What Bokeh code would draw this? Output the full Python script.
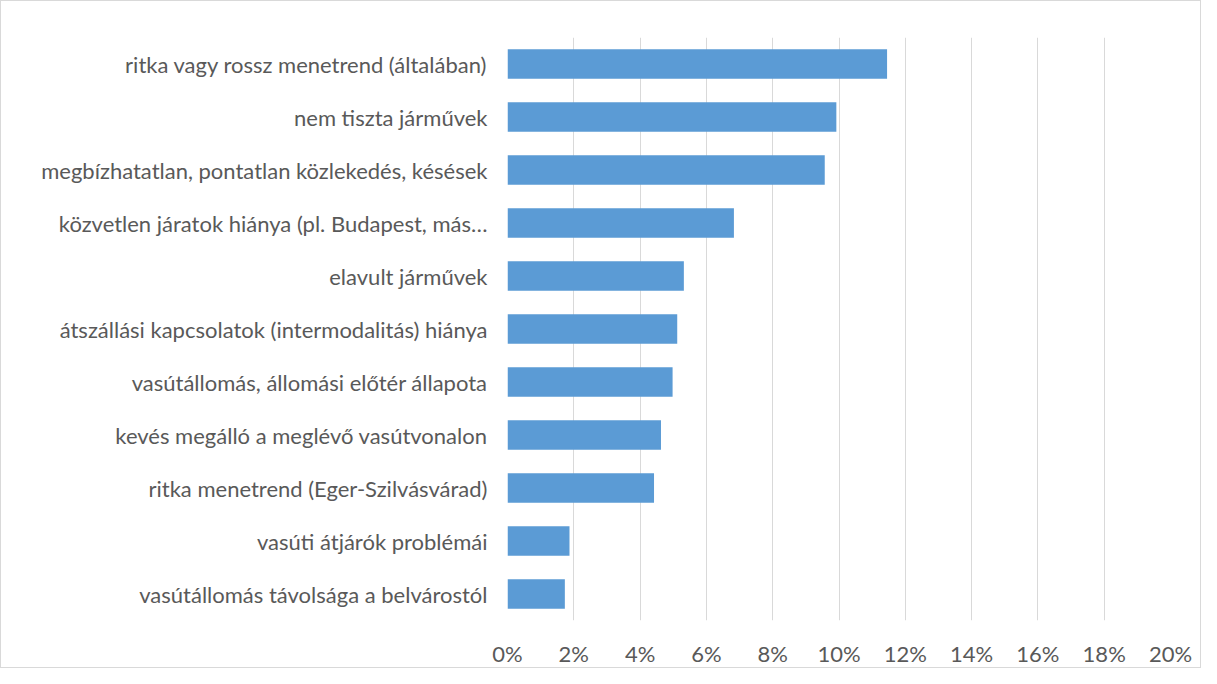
from bokeh.plotting import figure
from bokeh.models import ColumnDataSource, FixedTicker, NumeralTickFormatter, Range1d
from bokeh.embed import file_html
from bokeh.resources import INLINE

categories = [
    "ritka vagy rossz menetrend (általában)",
    "nem tiszta járművek",
    "megbízhatatlan, pontatlan közlekedés, késések",
    "közvetlen járatok hiánya (pl. Budapest, más…",
    "elavult járművek",
    "átszállási kapcsolatok (intermodalitás) hiánya",
    "vasútállomás, állomási előtér állapota",
    "kevés megálló a meglévő vasútvonalon",
    "ritka menetrend (Eger-Szilvásvárad)",
    "vasúti átjárók problémái",
    "vasútállomás távolsága a belvárostól",
]
values_pct = [11.45, 9.92, 9.57, 6.83, 5.32, 5.12, 4.98, 4.63, 4.42, 1.87, 1.73]
tick_values_pct = [0, 2, 4, 6, 8, 10, 12, 14, 16, 18, 20]

source = ColumnDataSource(dict(cat=categories, val=[v / 100 for v in values_pct]))

p = figure(
    y_range=list(reversed(categories)),
    x_range=Range1d(0, 0.20),
    width=1201, height=668,
    output_backend="svg", toolbar_location=None,
    min_border_left=506, min_border_right=32,
    min_border_top=36, min_border_bottom=31,
)
p.styles = {"border": "1px solid #D9D9D9"}
p.outline_line_color = None
p.background_fill_color = "white"
p.border_fill_color = "white"

p.hbar(y="cat", right="val", left=0, height=0.56, source=source,
       fill_color="#5B9BD5", line_color=None)

p.ygrid.grid_line_color = None
p.xgrid.grid_line_color = "#D9D9D9"
p.xgrid.grid_line_width = 1
p.xgrid.ticker = FixedTicker(ticks=[t / 100 for t in tick_values_pct])

p.xaxis.ticker = FixedTicker(ticks=[t / 100 for t in tick_values_pct])
p.xaxis.formatter = NumeralTickFormatter(format="0%")
for ax in (p.xaxis, p.yaxis):
    ax.axis_line_color = None
    ax.major_tick_line_color = None
    ax.minor_tick_line_color = None
    ax.major_label_text_font = "Lato"
    ax.major_label_text_font_size = "22px"
    ax.major_label_text_color = "#595959"
p.xaxis.major_label_standoff = 13
p.yaxis.major_label_standoff = 14

open("out.html", "w").write(file_html(p, INLINE))
